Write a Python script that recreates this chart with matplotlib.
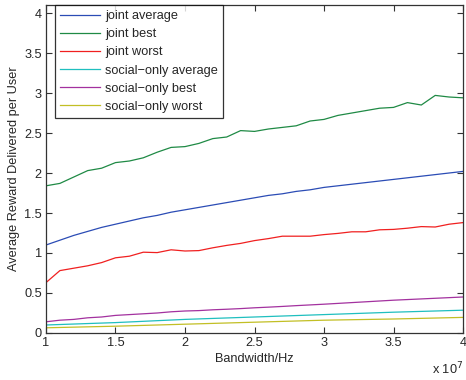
import matplotlib
matplotlib.use("Agg")
import matplotlib.pyplot as plt

plt.rcParams["font.family"] = ["Liberation Sans", "DejaVu Sans"]

# bandwidth in units of 1e7 Hz
bandwidth = [1.0, 1.1, 1.2, 1.3, 1.4, 1.5, 1.6, 1.7, 1.8, 1.9, 2.0,
             2.1, 2.2, 2.3, 2.4, 2.5, 2.6, 2.7, 2.8, 2.9, 3.0,
             3.1, 3.2, 3.3, 3.4, 3.5, 3.6, 3.7, 3.8, 3.9, 4.0]

joint_average = [1.10, 1.16, 1.22, 1.27, 1.32, 1.36, 1.40, 1.44, 1.47, 1.51, 1.54,
                 1.57, 1.60, 1.63, 1.66, 1.69, 1.72, 1.74, 1.77, 1.79, 1.82,
                 1.84, 1.86, 1.88, 1.90, 1.92, 1.94, 1.96, 1.98, 2.00, 2.02]
joint_best = [1.84, 1.87, 1.95, 2.03, 2.06, 2.13, 2.15, 2.19, 2.26, 2.32, 2.33,
              2.37, 2.43, 2.45, 2.53, 2.52, 2.55, 2.57, 2.59, 2.65, 2.67,
              2.72, 2.75, 2.78, 2.81, 2.82, 2.88, 2.85, 2.97, 2.95, 2.94]
joint_worst = [0.63, 0.78, 0.81, 0.84, 0.88, 0.94, 0.96, 1.01, 1.005, 1.04, 1.025,
               1.03, 1.065, 1.095, 1.12, 1.155, 1.18, 1.21, 1.21, 1.21, 1.23,
               1.245, 1.265, 1.265, 1.29, 1.295, 1.31, 1.33, 1.325, 1.36, 1.38]
social_average = [0.10, 0.106, 0.112, 0.118, 0.124, 0.13, 0.138, 0.146, 0.154, 0.162, 0.17,
                  0.176, 0.182, 0.188, 0.194, 0.20, 0.206, 0.212, 0.218, 0.224, 0.23,
                  0.236, 0.242, 0.248, 0.254, 0.26, 0.265, 0.27, 0.275, 0.28, 0.285]
social_best = [0.14, 0.16, 0.17, 0.19, 0.20, 0.22, 0.23, 0.24, 0.25, 0.265, 0.275,
               0.28, 0.29, 0.297, 0.305, 0.315, 0.323, 0.332, 0.342, 0.351, 0.36,
               0.37, 0.38, 0.39, 0.40, 0.41, 0.418, 0.426, 0.434, 0.442, 0.45]
social_worst = [0.065, 0.069, 0.073, 0.077, 0.081, 0.085, 0.09, 0.095, 0.10, 0.105, 0.11,
                0.115, 0.12, 0.125, 0.13, 0.135, 0.14, 0.145, 0.15, 0.155, 0.16,
                0.163, 0.166, 0.169, 0.172, 0.175, 0.179, 0.183, 0.187, 0.191, 0.195]

series = [
    ("joint average", joint_average, "#2b4cb5"),
    ("joint best", joint_best, "#1f8a45"),
    ("joint worst", joint_worst, "#f02020"),
    ("social\u2212only average", social_average, "#1fbfbf"),
    ("social\u2212only best", social_best, "#a3319f"),
    ("social\u2212only worst", social_worst, "#c2bf25"),
]

text_color = "#262626"
frame_color = "#333333"

fig = plt.figure(figsize=(4.66, 3.8), dpi=100)
ax = fig.add_axes([0.0987, 0.1237, 0.8949, 0.8631])

for label, values, color in series:
    ax.plot(bandwidth, values, color=color, lw=0.9, label=label)

ax.set_xlim(1, 4)
ax.set_ylim(0, 4.1)
ax.set_xticks([1, 1.5, 2, 2.5, 3, 3.5, 4])
ax.set_xticklabels(["1", "1.5", "2", "2.5", "3", "3.5", "4"])
ax.set_yticks([0, 0.5, 1, 1.5, 2, 2.5, 3, 3.5, 4])
ax.set_yticklabels(["0", "0.5", "1", "1.5", "2", "2.5", "3", "3.5", "4"])

ax.tick_params(direction="in", length=4, width=0.8, top=True, right=True,
               labelsize=9.2, colors=frame_color, labelcolor=text_color, pad=3)
for spine in ax.spines.values():
    spine.set_color(frame_color)
    spine.set_linewidth(0.9)

ax.set_xlabel("Bandwidth/Hz", fontsize=9.2, color=text_color, labelpad=3)
ax.set_ylabel("Average Reward Delivered per User", fontsize=9.2, color=text_color, labelpad=3)
ax.text(1.0, -0.085, r"x 10$^{7}$", transform=ax.transAxes, ha="right", va="top",
        fontsize=9.2, color=text_color)

leg = ax.legend(loc="upper left", bbox_to_anchor=(0.0216, 1.0), borderaxespad=0,
                fontsize=9.2, frameon=True, fancybox=False, edgecolor="black",
                handlelength=3.1, handletextpad=0.4, labelspacing=0.48,
                borderpad=0.4)
leg.get_frame().set_linewidth(0.9)
for t in leg.get_texts():
    t.set_color(text_color)

fig.savefig("out.png", dpi=100)
plt.close(fig)
